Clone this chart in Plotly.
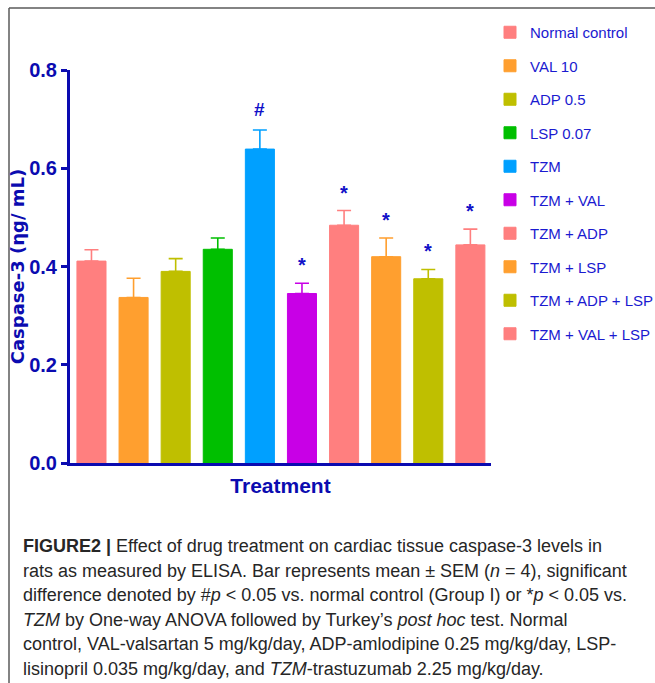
import plotly.graph_objects as go

groups = ["Normal control", "VAL 10", "ADP 0.5", "LSP 0.07", "TZM", "TZM + VAL",
          "TZM + ADP", "TZM + LSP", "TZM + ADP + LSP", "TZM + VAL + LSP"]
means = [0.411, 0.337, 0.390, 0.435, 0.639, 0.345, 0.484, 0.420, 0.375, 0.444]
sems = [0.023, 0.039, 0.026, 0.023, 0.039, 0.021, 0.030, 0.038, 0.019, 0.032]
signif = ["", "", "", "", "#", "*", "*", "*", "*", "*"]
colors = ["#FF7F7F", "#FF9F2F", "#BFBF00", "#00BF00", "#00A0FF", "#C800E6",
          "#FF7F7F", "#FF9F2F", "#BFBF00", "#FF7F7F"]
y_ticks = [0.0, 0.2, 0.4, 0.6, 0.8]

caption = [
    "<b>FIGURE2 |</b> Effect of drug treatment on cardiac tissue caspase-3 levels in",
    "rats as measured by ELISA. Bar represents mean ± SEM (<i>n</i> = 4), significant",
    "difference denoted by #<i>p</i> &lt; 0.05 vs. normal control (Group I) or *<i>p</i> &lt; 0.05 vs.",
    "<i>TZM</i> by One-way ANOVA followed by Turkey’s <i>post hoc</i> test. Normal",
    "control, VAL-valsartan 5 mg/kg/day, ADP-amlodipine 0.25 mg/kg/day, LSP-",
    "lisinopril 0.035 mg/kg/day, and <i>TZM</i>-trastuzumab 2.25 mg/kg/day.",
]

W, H = 655, 683
L, R, T, B = 70, 164, 70, 220
PW, PH = W - L - R, H - T - B
AX = "#0B0BB0"
SANS = "Liberation Sans, Arial, sans-serif"


def px(x):
    return (x - L) / PW


def py(y):
    return (H - B - y) / PH


fig = go.Figure()
for i, g in enumerate(groups):
    fig.add_trace(go.Bar(
        x=[i], y=[means[i]], name=g, width=0.69,
        marker=dict(color=colors[i], line=dict(color=colors[i], width=1)),
        error_y=dict(type="data", symmetric=False, array=[sems[i]], arrayminus=[0],
                     color=colors[i], thickness=1.6, width=7),
        legendgroup=g,
    ))
    if signif[i]:
        fig.add_annotation(x=i, y=means[i] + sems[i], text=signif[i], showarrow=False,
                           yanchor="bottom", yshift=5 if signif[i] == "*" else 8,
                           font=dict(family=SANS, size=20 if signif[i] == "*" else 19,
                                     color="#1010C8", weight="bold"))

for i, line in enumerate(caption):
    fig.add_annotation(xref="paper", yref="paper", x=px(21), y=py(546 + i * 24.6),
                       xanchor="left", yanchor="middle", showarrow=False, align="left",
                       text=line, font=dict(family=SANS, size=18, color="#262626"))

# frame lines
fig.add_shape(type="line", xref="paper", yref="paper", x0=px(9), x1=px(W), y0=py(8), y1=py(8),
              line=dict(color="#5a5a5a", width=1.5))
fig.add_shape(type="line", xref="paper", yref="paper", x0=px(9), x1=px(9), y0=py(8), y1=py(H),
              line=dict(color="#5a5a5a", width=1.5))

fig.update_layout(
    width=W, height=H,
    margin=dict(l=L, r=R, t=T, b=B, pad=0, autoexpand=False),
    paper_bgcolor="white", plot_bgcolor="white",
    barmode="overlay",
    showlegend=True,
    legend=dict(x=px(490), y=py(16), xanchor="left", yanchor="top",
                font=dict(family=SANS, size=15, color="#1A1AD0"),
                tracegroupgap=11, bgcolor="rgba(0,0,0,0)"),
    xaxis=dict(range=[-0.51, 9.49], showticklabels=False, ticks="", showgrid=False, zeroline=False,
               showline=True, linecolor=AX, linewidth=3,
               title=dict(text="<b>Treatment</b>", standoff=14,
                          font=dict(family=SANS, size=21, color=AX))),
    yaxis=dict(range=[0, 0.8], tickvals=y_ticks, tickformat=".1f", showgrid=False, zeroline=False,
               showline=True, linecolor=AX, linewidth=3, ticks="outside", ticklen=6, tickwidth=3,
               tickcolor=AX,
               tickfont=dict(family=SANS, size=20, color=AX, weight="bold"),
               title=dict(text="<b>Caspase-3 (ηg/ mL)</b>", standoff=0,
                          font=dict(family="DejaVu Sans", size=18, color=AX))),
)

fig.write_html("out.html", post_script="document.body.style.margin='0';",
               config={"displayModeBar": False})
